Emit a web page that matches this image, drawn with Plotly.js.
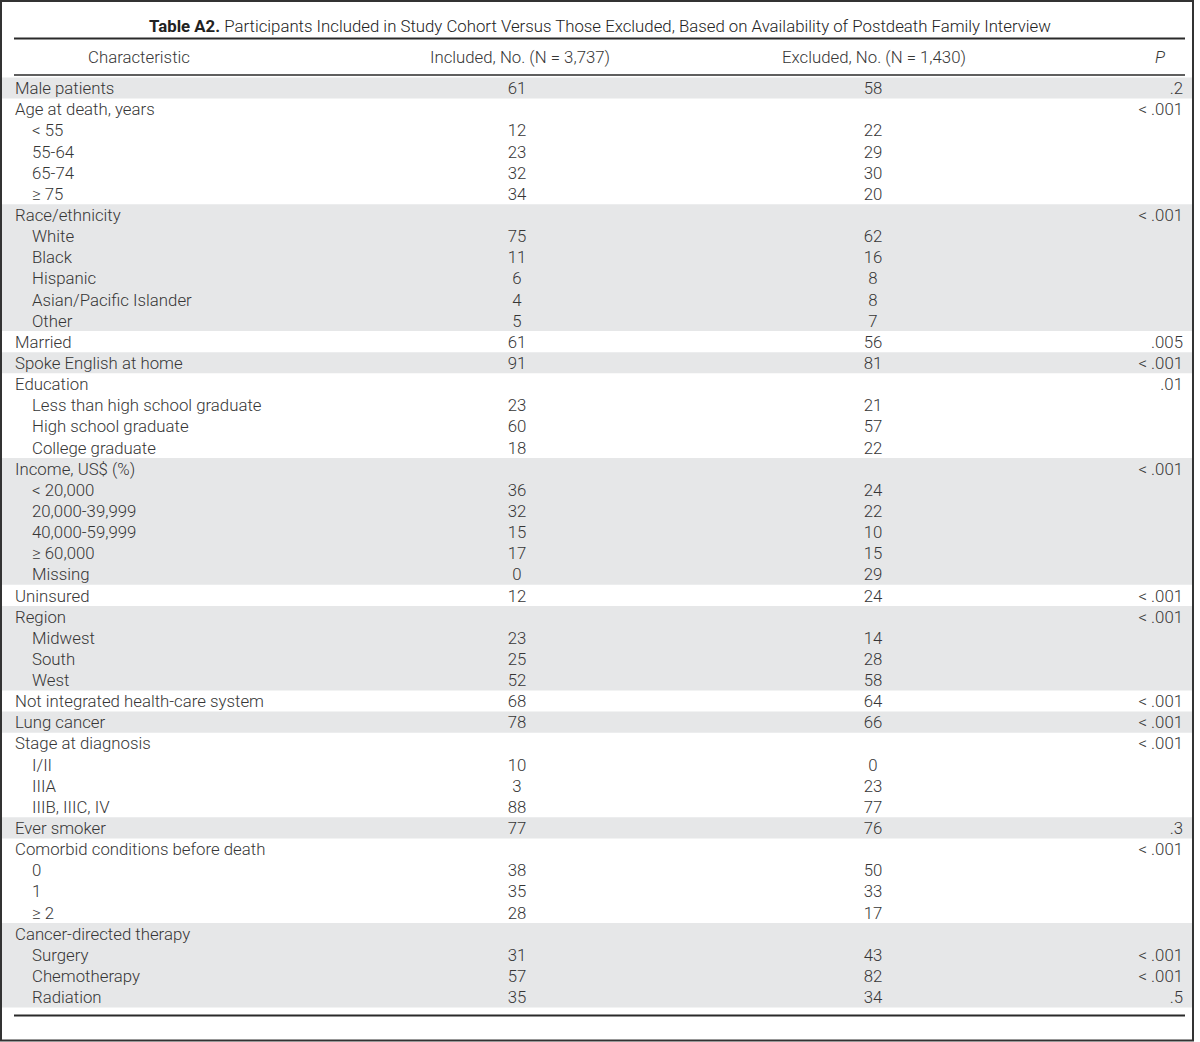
<!DOCTYPE html>
<html><head><meta charset="utf-8">
<script src="https://cdn.plot.ly/plotly-3.0.1.min.js"></script>
<style>html,body{margin:0;padding:0;background:#fff}</style>
</head><body><div id="chart" style="width:1200px;height:1042px"></div>
<script>
// ---- data ----
const titleText = '<b>Table A2.</b> Participants Included in Study Cohort Versus Those Excluded, Based on Availability of Postdeath Family Interview';
const headers = ['Characteristic', 'Included, No. (N = 3,737)', 'Excluded, No. (N = 1,430)', '<i>P</i>'];
const characteristics = [
  'Male patients', 'Age at death, years', '< 55', '55-64', '65-74', '≥ 75',
  'Race/ethnicity', 'White', 'Black', 'Hispanic', 'Asian/Pacific Islander', 'Other',
  'Married', 'Spoke English at home', 'Education', 'Less than high school graduate', 'High school graduate', 'College graduate',
  'Income, US$ (%)', '< 20,000', '20,000-39,999', '40,000-59,999', '≥ 60,000', 'Missing',
  'Uninsured', 'Region', 'Midwest', 'South', 'West',
  'Not integrated health-care system', 'Lung cancer', 'Stage at diagnosis', 'I/II', 'IIIA', 'IIIB, IIIC, IV',
  'Ever smoker', 'Comorbid conditions before death', '0', '1', '≥ 2',
  'Cancer-directed therapy', 'Surgery', 'Chemotherapy', 'Radiation'
];
const levels = [
  0, 0, 1, 1, 1, 1,
  0, 1, 1, 1, 1, 1,
  0, 0, 0, 1, 1, 1,
  0, 1, 1, 1, 1, 1,
  0, 0, 1, 1, 1,
  0, 0, 0, 1, 1, 1,
  0, 0, 1, 1, 1,
  0, 1, 1, 1
];
const included = [
  61, null, 12, 23, 32, 34,
  null, 75, 11, 6, 4, 5,
  61, 91, null, 23, 60, 18,
  null, 36, 32, 15, 17, 0,
  12, null, 23, 25, 52,
  68, 78, null, 10, 3, 88,
  77, null, 38, 35, 28,
  null, 31, 57, 35
];
const excluded = [
  58, null, 22, 29, 30, 20,
  null, 62, 16, 8, 8, 7,
  56, 81, null, 21, 57, 22,
  null, 24, 22, 10, 15, 29,
  24, null, 14, 28, 58,
  64, 66, null, 0, 23, 77,
  76, null, 50, 33, 17,
  null, 43, 82, 34
];
const pValues = [
  '.2', '< .001', '', '', '', '',
  '< .001', '', '', '', '', '',
  '.005', '< .001', '.01', '', '', '',
  '< .001', '', '', '', '', '',
  '< .001', '< .001', '', '', '',
  '< .001', '< .001', '< .001', '', '', '',
  '.3', '< .001', '', '', '',
  '', '< .001', '< .001', '.5'
];
const groups = [
  0, 1, 1, 1, 1, 1,
  2, 2, 2, 2, 2, 2,
  3, 4, 5, 5, 5, 5,
  6, 6, 6, 6, 6, 6,
  7, 8, 8, 8, 8,
  9, 10, 11, 11, 11, 11,
  12, 13, 13, 13, 13,
  14, 14, 14, 14
];

// ---- layout constants (pixels) ----
const W = 1200, H = 1042;
const TOP = 77.4, ROW_H = 21.14;
const TEXT_DY = 2 / ROW_H;            // optical centring of text inside a row
const X_LEFT = 15, X_INDENT = 32, X_INC = 517, X_EXC = 873, X_P = 1183;
const HEAD_Y = (57 - TOP) / ROW_H + TEXT_DY;
const TXT = '#363636';
const FONT = {family: 'Roboto, "Liberation Sans", Arial, sans-serif', size: 16.8, color: TXT, weight: 300};
const py = p => 1 - p / H;

const rows = characteristics.map((_, i) => i + 0.5 + TEXT_DY);
const fmt = v => (v === null ? '' : String(v));

const traces = [
  {type: 'scatter', mode: 'text', x: levels.map(l => l ? X_INDENT : X_LEFT), y: rows,
   text: characteristics, textposition: 'middle right', textfont: FONT, hoverinfo: 'skip', showlegend: false, cliponaxis: false},
  {type: 'scatter', mode: 'text', x: rows.map(() => X_INC), y: rows,
   text: included.map(fmt), textposition: 'middle center', textfont: FONT, hoverinfo: 'skip', showlegend: false, cliponaxis: false},
  {type: 'scatter', mode: 'text', x: rows.map(() => X_EXC), y: rows,
   text: excluded.map(fmt), textposition: 'middle center', textfont: FONT, hoverinfo: 'skip', showlegend: false, cliponaxis: false},
  {type: 'scatter', mode: 'text', x: rows.map(() => X_P), y: rows,
   text: pValues, textposition: 'middle left', textfont: FONT, hoverinfo: 'skip', showlegend: false, cliponaxis: false},
  {type: 'scatter', mode: 'text', x: [139, 520, 874, 1165], y: headers.map(() => HEAD_Y),
   text: headers, textposition: ['middle center', 'middle center', 'middle center', 'middle left'],
   textfont: FONT, hoverinfo: 'skip', showlegend: false, cliponaxis: false}
];

// grey bands for even groups
const shapes = [];
const nG = Math.max(...groups) + 1;
for (let g = 0; g < nG; g += 2) {
  const idx = groups.map((v, i) => v === g ? i : -1).filter(i => i >= 0);
  shapes.push({type: 'rect', layer: 'below', xref: 'x', yref: 'y', x0: 2, x1: 1193,
    y0: idx[0], y1: idx[idx.length - 1] + 1, fillcolor: '#e6e7e8', line: {width: 0}});
}
// rules
const rule = (p, w) => ({type: 'line', xref: 'x', yref: 'paper', x0: 14, x1: 1185, y0: py(p), y1: py(p), line: {color: '#2a2a2a', width: w}});
shapes.push(rule(38.5, 1.8), rule(75, 1.5), rule(1015.5, 1.8));
// outer frame
shapes.push({type: 'rect', xref: 'paper', yref: 'paper', x0: 1 / W, x1: 1193 / W, y0: py(1), y1: py(1040.5), line: {color: '#333', width: 2}});

const layout = {
  width: W, height: H, autosize: false,
  margin: {l: 0, r: 0, t: 0, b: 0, pad: 0},
  paper_bgcolor: '#fff', plot_bgcolor: '#fff',
  hovermode: false, showlegend: false,
  title: {text: titleText, font: {family: FONT.family, size: 16.8, color: '#222', weight: 300},
          x: 0.5, xanchor: 'center', xref: 'paper', y: py(26), yanchor: 'middle', yref: 'container'},
  xaxis: {range: [0, W], visible: false, fixedrange: true},
  yaxis: {range: [(H - TOP) / ROW_H, -TOP / ROW_H], visible: false, fixedrange: true},
  shapes: shapes
};

Plotly.newPlot('chart', traces, layout, {displayModeBar: false, staticPlot: true});
</script></body></html>
